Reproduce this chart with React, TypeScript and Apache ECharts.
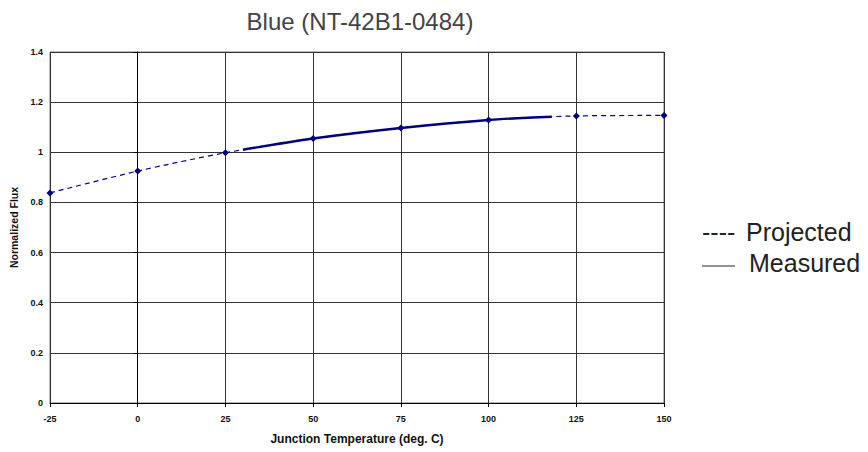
import React, { useEffect, useRef } from "react";
import * as echarts from "echarts";

const title = "Blue (NT-42B1-0484)";
const xAxisName = "Junction Temperature (deg. C)";
const yAxisName = "Normalized Flux";
const projectedX = [-25, 0, 25, 50, 75, 100, 125, 150];
const projectedY = [0.838, 0.925, 0.998, 1.055, 1.097, 1.129, 1.145, 1.147];
const measuredX = [30, 50, 75, 100, 118];
const measuredY = [1.01, 1.055, 1.097, 1.129, 1.142];
const legendLabels = ["Projected", "Measured"];

export default function App() {
  const ref = useRef<HTMLDivElement>(null);
  useEffect(() => {
    const chart = echarts.init(ref.current!, null, { renderer: "svg" });
    const font = "'Liberation Sans', Arial, sans-serif";
    chart.setOption({
      animation: false,
      backgroundColor: "#fff",
      textStyle: { fontFamily: font },
      title: {
        text: title,
        left: 355,
        textAlign: "center",
        top: 4,
        textStyle: { fontSize: 24, fontWeight: "normal", color: "#444", fontFamily: font },
      },
      grid: { left: 50, right: 204, top: 52, bottom: 49, show: true, borderColor: "#777", borderWidth: 1 },
      xAxis: {
        type: "value",
        min: -25,
        max: 150,
        interval: 25,
        name: xAxisName,
        nameLocation: "middle",
        nameGap: 30,
        nameTextStyle: { fontSize: 12, fontWeight: "bold", color: "#111", fontFamily: font },
        axisLine: { show: true, onZero: false, lineStyle: { color: "#000", width: 1 } },
        axisTick: { show: true, length: 4, lineStyle: { color: "#000" } },
        axisLabel: { fontSize: 9, fontWeight: "bold", color: "#111", margin: 11, fontFamily: font },
        splitLine: { show: true, lineStyle: { color: "#333", width: 1 } },
      },
      yAxis: {
        type: "value",
        min: 0,
        max: 1.4,
        interval: 0.2,
        name: yAxisName,
        nameLocation: "middle",
        nameGap: 28,
        nameTextStyle: { fontSize: 10.5, fontWeight: "bold", color: "#111", fontFamily: font },
        axisLine: { show: true, lineStyle: { color: "#000", width: 1 } },
        axisTick: { show: true, length: 4, lineStyle: { color: "#000" } },
        axisLabel: { fontSize: 9, fontWeight: "bold", color: "#111", margin: 7, fontFamily: font },
        splitLine: { show: true, lineStyle: { color: "#333", width: 1 } },
      },
      series: [
        {
          name: "Projected",
          type: "line",
          smooth: 0.3,
          data: projectedX.map((x, i) => [x, projectedY[i]]),
          lineStyle: { color: "#000080", width: 1.2, type: [5, 4] },
          symbol: "diamond",
          symbolSize: 7,
          itemStyle: { color: "#000080" },
          z: 3,
        },
        {
          name: "Measured",
          type: "line",
          smooth: 0.3,
          data: measuredX.map((x, i) => [x, measuredY[i]]),
          lineStyle: { color: "#000080", width: 2.4 },
          symbol: "none",
          z: 2,
        },
      ],
      graphic: [
        {
          type: "text",
          left: 702,
          top: 219,
          style: { text: "----", fontSize: 25, fill: "#222", fontFamily: font },
        },
        {
          type: "text",
          left: 746,
          top: 219,
          style: { text: legendLabels[0], fontSize: 25, fill: "#222", fontFamily: font },
        },
        {
          type: "line",
          shape: { x1: 702, y1: 266, x2: 735, y2: 266 },
          style: { stroke: "#222", lineWidth: 1 },
        },
        {
          type: "text",
          left: 749,
          top: 250,
          style: { text: legendLabels[1], fontSize: 25, fill: "#222", fontFamily: font },
        },
      ],
    });
    return () => chart.dispose();
  }, []);
  return <div ref={ref} style={{ position: "fixed", left: 0, top: 0, width: 868, height: 452 }} />;
}
